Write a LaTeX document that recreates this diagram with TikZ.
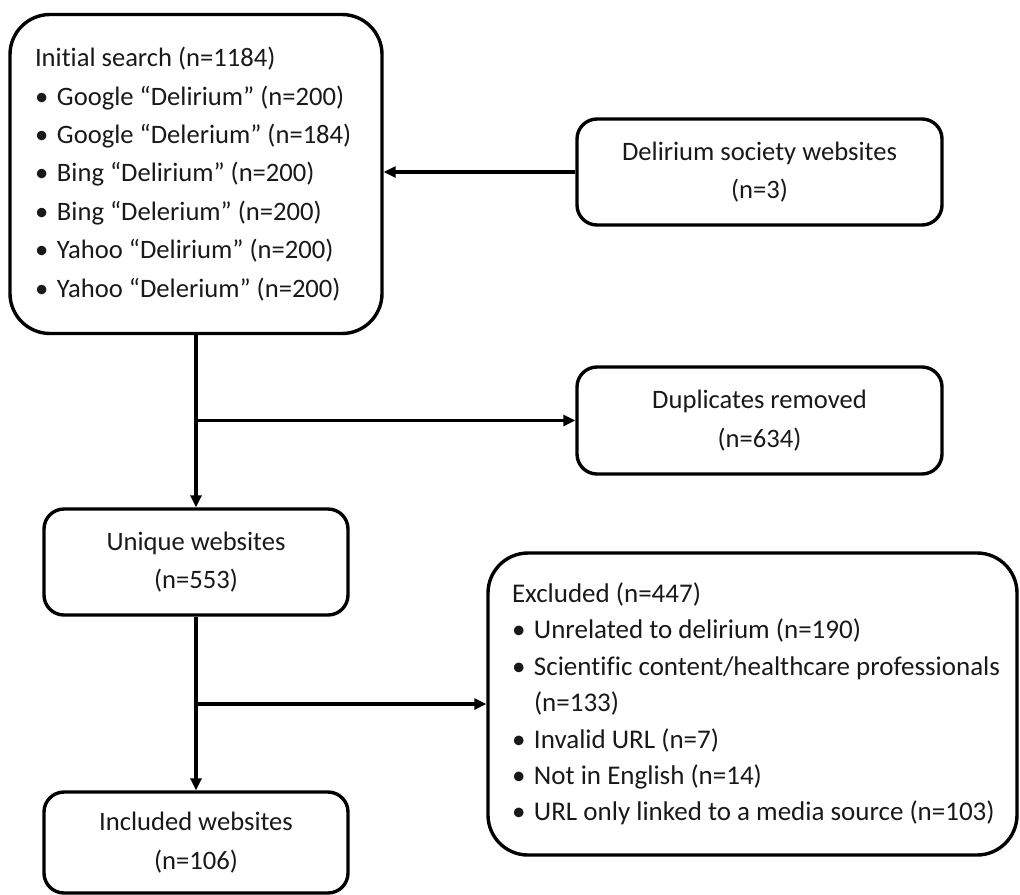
\documentclass[tikz,border=0pt]{standalone}
\usepackage{fontspec}
\setmainfont{Carlito}[Ligatures=NoCommon]
\usetikzlibrary{arrows.meta}
\newcommand\mybul{\makebox[11pt][l]{\textbullet}}
\begin{document}
\begin{tikzpicture}[x=0.5pt,y=-0.5pt,
  box/.style={draw=black, line width=1.7pt, rounded corners=10pt, inner sep=0pt,
    font=\fontsize{13.3}{19.2}\selectfont, text=black!90, align=center},
  bigbox/.style={box, rounded corners=20pt},
  arr/.style={line width=1.7pt, -{Triangle[length=6pt,width=5.5pt]}}]
\useasboundingbox (0,0) rectangle (1020,894);

\node[bigbox, minimum width=186pt, minimum height=159.5pt] (init) at (196,174)
  {\parbox{161pt}{\raggedright
   Initial search (n=1184)\\
   \mybul Google “Delirium” (n=200)\\
   \mybul Google “Delerium” (n=184)\\
   \mybul Bing “Delirium” (n=200)\\
   \mybul Bing “Delerium” (n=200)\\
   \mybul Yahoo “Delirium” (n=200)\\
   \mybul Yahoo “Delerium” (n=200)}};

\node[box, minimum width=182.5pt, minimum height=53pt] (deli) at (759.5,172)
  {Delirium society websites\\(n=3)};

\node[box, minimum width=182.5pt, minimum height=53.5pt] (dup) at (759.5,420.5)
  {Duplicates removed\\(n=634)};

\node[box, minimum width=152pt, minimum height=53pt] (uniq) at (196,562)
  {Unique websites\\(n=553)};

\node[bigbox, minimum width=264.5pt, minimum height=151pt,
  font=\fontsize{13.5}{18.2}\selectfont] (excl) at (752.5,704)
  {\parbox{240.5pt}{\raggedright
   \mbox{Excluded (n=447)}\\
   \mbox{\mybul Unrelated to delirium (n=190)}\\
   \mbox{\mybul Scientific content/healthcare professionals}\\
   \mbox{\hspace{11pt}(n=133)}\\
   \mbox{\mybul Invalid URL (n=7)}\\
   \mbox{\mybul Not in English (n=14)}\\
   \mbox{\mybul URL only linked to a media source (n=103)}}};

\node[box, minimum width=152pt, minimum height=50.5pt] (incl) at (196,842.5)
  {Included websites\\(n=106)};

\draw[arr] (deli.west) -- (deli.west -| init.east);
\draw[arr] (init.south) -- (uniq.north);
\draw[arr] (init.south |- dup.west) -- (dup.west);
\draw[arr] (uniq.south) -- (incl.north);
\draw[arr] (uniq.south |- excl.west) -- (excl.west);
\end{tikzpicture}
\end{document}
